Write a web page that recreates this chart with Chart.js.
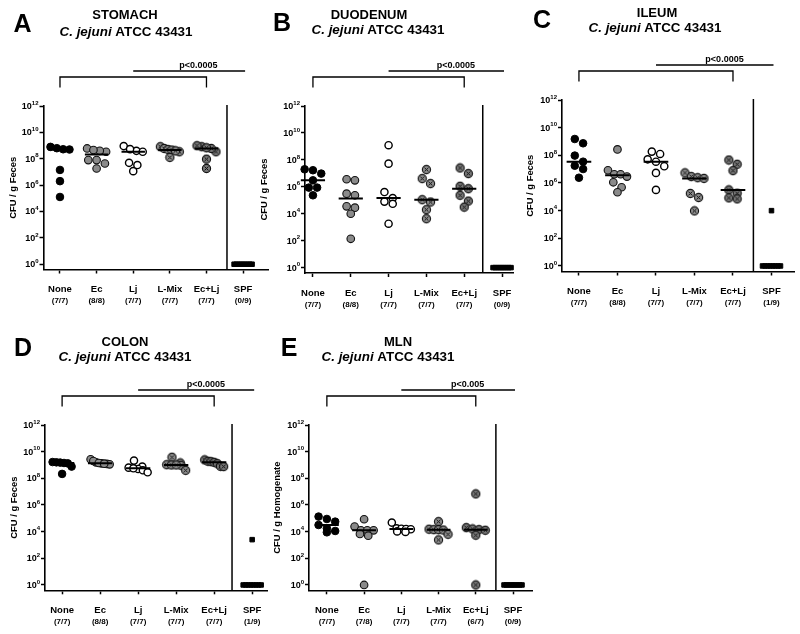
<!DOCTYPE html>
<html>
<head>
<meta charset="utf-8">
<script src="https://cdn.jsdelivr.net/npm/chart.js@4.4.0/dist/chart.umd.min.js"></script>
<style>
  html, body { margin: 0; padding: 0; background: #fff; }
  #wrap { position: relative; width: 800px; height: 634px; }
  #wrap canvas { position: absolute; left: 0; top: 0; }
</style>
</head>
<body>
<div id="wrap">
  <canvas id="stomach" width="800" height="634"></canvas>
  <canvas id="duodenum" width="800" height="634"></canvas>
  <canvas id="ileum" width="800" height="634"></canvas>
  <canvas id="colon" width="800" height="634"></canvas>
  <canvas id="mln" width="800" height="634"></canvas>
</div>
<script>
var groups = ["None", "Ec", "Lj", "L-Mix", "Ec+Lj", "SPF"];
var yExponents = [0, 2, 4, 6, 8, 10, 12];

// log10 CFU per animal, one list per group (None, Ec, Lj, L-Mix, Ec+Lj, SPF)
var stomach = [
  [8.72, 8.9, 8.7, 8.8, 7.15, 6.3, 5.1],
  [8.78, 8.53, 8.6, 8.66, 7.9, 7.9, 7.64, 7.26],
  [8.6, 8.96, 8.53, 8.73, 7.69, 7.06, 7.52],
  [8.91, 8.78, 8.7, 8.66, 8.53, 8.6, 8.1],
  [8.91, 8.53, 8.78, 8.99, 8.83, 7.97, 7.26],
  [0, 0, 0, 0, 0, 0, 0, 0, 0]
];
var stomachN = ["(7/7)", "(8/8)", "(7/7)", "(7/7)", "(7/7)", "(0/9)"];

var duodenum = [
  [7.3, 7.23, 6.98, 6.48, 5.94, 5.94, 5.37],
  [6.56, 6.48, 5.49, 5.37, 4.55, 4.45, 4.0, 2.14],
  [9.09, 7.72, 5.61, 5.16, 4.9, 4.74, 3.26],
  [7.28, 6.61, 6.24, 5.04, 4.87, 4.3, 3.63],
  [7.4, 6.98, 6.04, 5.86, 5.37, 4.94, 4.49],
  [0, 0, 0, 0, 0, 0, 0, 0, 0]
];
var duodenumN = ["(7/7)", "(8/8)", "(7/7)", "(7/7)", "(7/7)", "(0/9)"];

var ileum = [
  [9.18, 8.87, 7.98, 7.54, 7.25, 7.01, 6.38],
  [8.43, 6.92, 6.63, 6.63, 6.46, 6.05, 5.69, 5.33],
  [8.27, 8.1, 7.71, 7.54, 7.21, 6.73, 5.5],
  [6.73, 6.46, 6.38, 6.33, 5.24, 4.95, 3.98],
  [7.66, 7.35, 6.89, 5.5, 5.26, 4.92, 4.85],
  [4.0, 0, 0, 0, 0, 0, 0, 0, 0]
];
var ileumN = ["(7/7)", "(8/8)", "(7/7)", "(7/7)", "(7/7)", "(1/9)"];

var colon = [
  [9.2, 9.22, 9.15, 9.18, 9.12, 8.88, 8.33],
  [9.43, 9.2, 9.3, 9.12, 9.15, 9.08, 9.05, 9.1],
  [9.33, 8.88, 8.8, 8.7, 8.6, 8.45, 8.75],
  [9.58, 9.15, 9.02, 9.0, 8.98, 9.0, 8.6],
  [9.38, 9.28, 9.25, 9.2, 9.1, 8.9, 8.88],
  [3.4, 0, 0, 0, 0, 0, 0, 0, 0]
];
var colonN = ["(7/7)", "(8/8)", "(7/7)", "(7/7)", "(7/7)", "(1/9)"];

var mln = [
  [5.13, 4.95, 4.75, 4.5, 4.25, 4.05, 3.95],
  [4.93, 4.38, 4.1, 4.1, 4.1, 3.83, 3.7, 0],
  [4.68, 4.25, 4.22, 4.2, 4.18, 4.02, 3.98],
  [4.75, 4.18, 4.15, 4.15, 4.12, 3.8, 3.38],
  [6.83, 4.3, 4.2, 4.15, 4.1, 3.73, 0],
  [0, 0, 0, 0, 0, 0, 0, 0, 0]
];
var mlnN = ["(7/7)", "(7/8)", "(7/7)", "(7/7)", "(6/7)", "(0/9)"];

var FONT = '"Liberation Sans", Arial, sans-serif';

// panel layout (pixels on the 800x634 page)
var panels = [
  { id: "stomach", letter: "A", name: "STOMACH", values: stomach, counts: stomachN, p: "p<0.0005", yTitle: "CFU / g Feces",
    box: [43.5, 106, 268, 269.5], xMin: -0.45, xMax: 5.68, divider: 4.56,
    letterAt: [22.5, 25], title1: [125, 15], title2: [126, 32], yTitleX: 13 },
  { id: "duodenum", letter: "B", name: "DUODENUM", values: duodenum, counts: duodenumN, p: "p<0.0005", yTitle: "CFU / g Feces",
    box: [305, 106, 513, 273], xMin: -0.21, xMax: 5.29, divider: 4.49,
    letterAt: [282, 24], title1: [369, 15], title2: [378, 30], yTitleX: 264 },
  { id: "ileum", letter: "C", name: "ILEUM", values: ileum, counts: ileumN, p: "p<0.0005", yTitle: "CFU / g Feces",
    box: [562, 100, 795, 271.5], xMin: -0.44, xMax: 5.6, divider: 4.53,
    letterAt: [542, 21], title1: [657, 13], title2: [655, 28], yTitleX: 530 },
  { id: "colon", letter: "D", name: "COLON", values: colon, counts: colonN, p: "p<0.0005", yTitle: "CFU / g Feces",
    box: [45, 425, 267, 590.3], xMin: -0.45, xMax: 5.39, divider: 4.47,
    letterAt: [23, 349], title1: [125, 342], title2: [125, 357], yTitleX: 14 },
  { id: "mln", letter: "E", name: "MLN", values: mln, counts: mlnN, p: "p<0.005", yTitle: "CFU / g Homogenate",
    box: [309, 425, 532, 590.3], xMin: -0.48, xMax: 5.51, divider: 4.54,
    letterAt: [289, 349], title1: [398, 342], title2: [388, 357], yTitleX: 277 }
];

// circle with an X inside, for the Lactobacillus groups
function crossDot(fill) {
  var c = document.createElement("canvas");
  c.width = 11; c.height = 11;
  var g = c.getContext("2d");
  g.beginPath();
  g.arc(5.5, 5.5, 4.1, 0, Math.PI * 2);
  g.fillStyle = fill;
  g.fill();
  g.lineWidth = 1.1;
  g.strokeStyle = "#111";
  g.stroke();
  g.beginPath();
  g.moveTo(3.6, 3.6); g.lineTo(7.4, 7.4);
  g.moveTo(7.4, 3.6); g.lineTo(3.6, 7.4);
  g.lineWidth = 1;
  g.stroke();
  return c;
}

var markers = [
  { pointStyle: "circle", pointRadius: 3.8, backgroundColor: "#000", borderColor: "#000", borderWidth: 1 },
  { pointStyle: "circle", pointRadius: 3.8, backgroundColor: "#8a8a8a", borderColor: "#111", borderWidth: 1.1 },
  { pointStyle: "circle", pointRadius: 3.6, backgroundColor: "#fff", borderColor: "#000", borderWidth: 1.4 },
  { pointStyle: crossDot("#8c8c8c"), pointRadius: 4 },
  { pointStyle: crossDot("#777"), pointRadius: 4 },
  { pointStyle: "rect", pointRadius: 3.2, backgroundColor: "#000", borderColor: "#000", borderWidth: 1 }
];

function linMedian(logs) {
  var v = logs.map(function (e) { return Math.pow(10, e); }).sort(function (a, b) { return a - b; });
  var m = v.length >> 1;
  return v.length % 2 ? v[m] : (v[m - 1] + v[m]) / 2;
}

// spread points of similar value sideways, like a column scatter
var swarm = {
  id: "swarm",
  afterDatasetsUpdate: function (chart) {
    chart.data.datasets.forEach(function (ds, di) {
      if (!ds.swarm) return;
      var els = chart.getDatasetMeta(di).data.slice();
      var diam = ds.swarm[0], span = ds.swarm[1];
      els.sort(function (a, b) { return a.y - b.y; });
      var rows = [], cur = [];
      els.forEach(function (el) {
        if (cur.length && el.y - cur[0].y > diam * 0.85) { rows.push(cur); cur = []; }
        cur.push(el);
      });
      if (cur.length) rows.push(cur);
      rows.forEach(function (r) {
        var step = r.length > 1 ? Math.min(diam, span / (r.length - 1)) : 0;
        r.forEach(function (el, k) { el.x += (k - (r.length - 1) / 2) * step; });
      });
    });
  }
};

function makeDecor(panel) {
  return {
    id: "decor",
    afterDraw: function (chart) {
      var ctx = chart.ctx, xs = chart.scales.x, ys = chart.scales.y, area = chart.chartArea;
      ctx.save();
      ctx.fillStyle = "#000";
      ctx.strokeStyle = "#000";
      ctx.textBaseline = "middle";

      // panel letter and titles
      ctx.textAlign = "center";
      ctx.font = "bold 25px " + FONT;
      ctx.fillText(panel.letter, panel.letterAt[0], panel.letterAt[1]);
      ctx.font = "bold 13px " + FONT;
      ctx.fillText(panel.name, panel.title1[0], panel.title1[1]);
      var it = "italic bold 13.4px " + FONT, bd = "bold 13.4px " + FONT;
      ctx.font = it; var w1 = ctx.measureText("C. jejuni").width;
      ctx.font = bd; var w2 = ctx.measureText(" ATCC 43431").width;
      var x0 = panel.title2[0] - (w1 + w2) / 2;
      ctx.textAlign = "left";
      ctx.font = it; ctx.fillText("C. jejuni", x0, panel.title2[1]);
      ctx.font = bd; ctx.fillText(" ATCC 43431", x0 + w1, panel.title2[1]);

      // y tick labels 10^n
      ctx.textAlign = "right";
      yExponents.forEach(function (e) {
        var y = ys.getPixelForValue(Math.pow(10, e));
        ctx.font = "bold 6px " + FONT;
        var ws = ctx.measureText(String(e)).width;
        ctx.fillText(String(e), area.left - 5, y - 3);
        ctx.font = "bold 9px " + FONT;
        ctx.fillText("10", area.left - 5 - ws, y + 0.5);
      });

      // y title
      ctx.save();
      ctx.translate(panel.yTitleX, (area.top + area.bottom) / 2);
      ctx.rotate(-Math.PI / 2);
      ctx.textAlign = "center";
      ctx.font = "bold 9.4px " + FONT;
      ctx.fillText(panel.yTitle, 0, 0);
      ctx.restore();

      // category labels
      ctx.textAlign = "center";
      groups.forEach(function (g, i) {
        var x = xs.getPixelForValue(i);
        ctx.font = "bold 9.5px " + FONT;
        ctx.fillText(g, x, area.bottom + 20);
        ctx.font = "bold 8px " + FONT;
        ctx.fillText(panel.counts[i], x, area.bottom + 31.5);
      });

      // divider before SPF
      ctx.lineWidth = 1.5;
      var xd = xs.getPixelForValue(panel.divider);
      ctx.beginPath();
      ctx.moveTo(xd, area.top - 1);
      ctx.lineTo(xd, area.bottom);
      ctx.stroke();

      // comparison bracket and p line
      ctx.lineWidth = 1.3;
      var xa = xs.getPixelForValue(0), xb = xs.getPixelForValue(4);
      var yb = area.top - 29;
      ctx.beginPath();
      ctx.moveTo(xa, area.top - 18.5);
      ctx.lineTo(xa, yb);
      ctx.lineTo(xb, yb);
      ctx.lineTo(xb, area.top - 18.5);
      ctx.stroke();
      var yp = area.top - 35;
      ctx.beginPath();
      ctx.moveTo(xs.getPixelForValue(2), yp);
      ctx.lineTo(xs.getPixelForValue(5) + 2, yp);
      ctx.stroke();
      ctx.font = "bold 9px " + FONT;
      ctx.fillText(panel.p, xs.getPixelForValue(3.78), area.top - 40.5);
      ctx.restore();
    }
  };
}

panels.forEach(function (panel) {
  var datasets = [];
  var medLine = [];
  panel.values.forEach(function (vals, i) {
    var m = markers[i];
    datasets.push({
      label: groups[i],
      data: vals.map(function (e) { return { x: i, y: Math.pow(10, e) }; }),
      pointStyle: m.pointStyle,
      pointRadius: m.pointRadius,
      backgroundColor: m.backgroundColor,
      borderColor: m.borderColor,
      borderWidth: m.borderWidth,
      clip: false,
      swarm: i === 5 ? [5, 18] : [8.3, 19]
    });
    if (i < 5) {
      var med = linMedian(vals);
      medLine.push({ x: i - 0.32, y: med }, { x: i + 0.32, y: med }, { x: i + 0.5, y: null });
    }
  });
  datasets.push({
    type: "line",
    label: "median",
    data: medLine,
    borderColor: "#000",
    borderWidth: 2,
    pointRadius: 0,
    spanGaps: false,
    clip: false,
    order: -1
  });

  var b = panel.box;
  new Chart(document.getElementById(panel.id), {
    type: "scatter",
    data: { datasets: datasets },
    options: {
      responsive: false,
      animation: false,
      events: [],
      layout: { padding: { left: b[0] - 4, top: b[1], right: 800 - b[2], bottom: 634 - b[3] - 4 } },
      plugins: { legend: { display: false }, tooltip: { enabled: false } },
      scales: {
        x: {
          type: "linear",
          min: panel.xMin,
          max: panel.xMax,
          afterBuildTicks: function (s) { s.ticks = groups.map(function (g, i) { return { value: i }; }); },
          ticks: { display: false },
          grid: { drawOnChartArea: false, tickLength: 4, tickWidth: 1.5, tickColor: "#000" },
          border: { color: "#000", width: 1.6 }
        },
        y: {
          type: "logarithmic",
          min: Math.pow(10, -0.4),
          max: 1e12,
          afterBuildTicks: function (s) { s.ticks = yExponents.map(function (e) { return { value: Math.pow(10, e) }; }); },
          ticks: { display: false },
          grid: { drawOnChartArea: false, tickLength: 4, tickWidth: 1.5, tickColor: "#000" },
          border: { color: "#000", width: 1.6 }
        }
      }
    },
    plugins: [swarm, makeDecor(panel)]
  });
});
</script>
</body>
</html>
